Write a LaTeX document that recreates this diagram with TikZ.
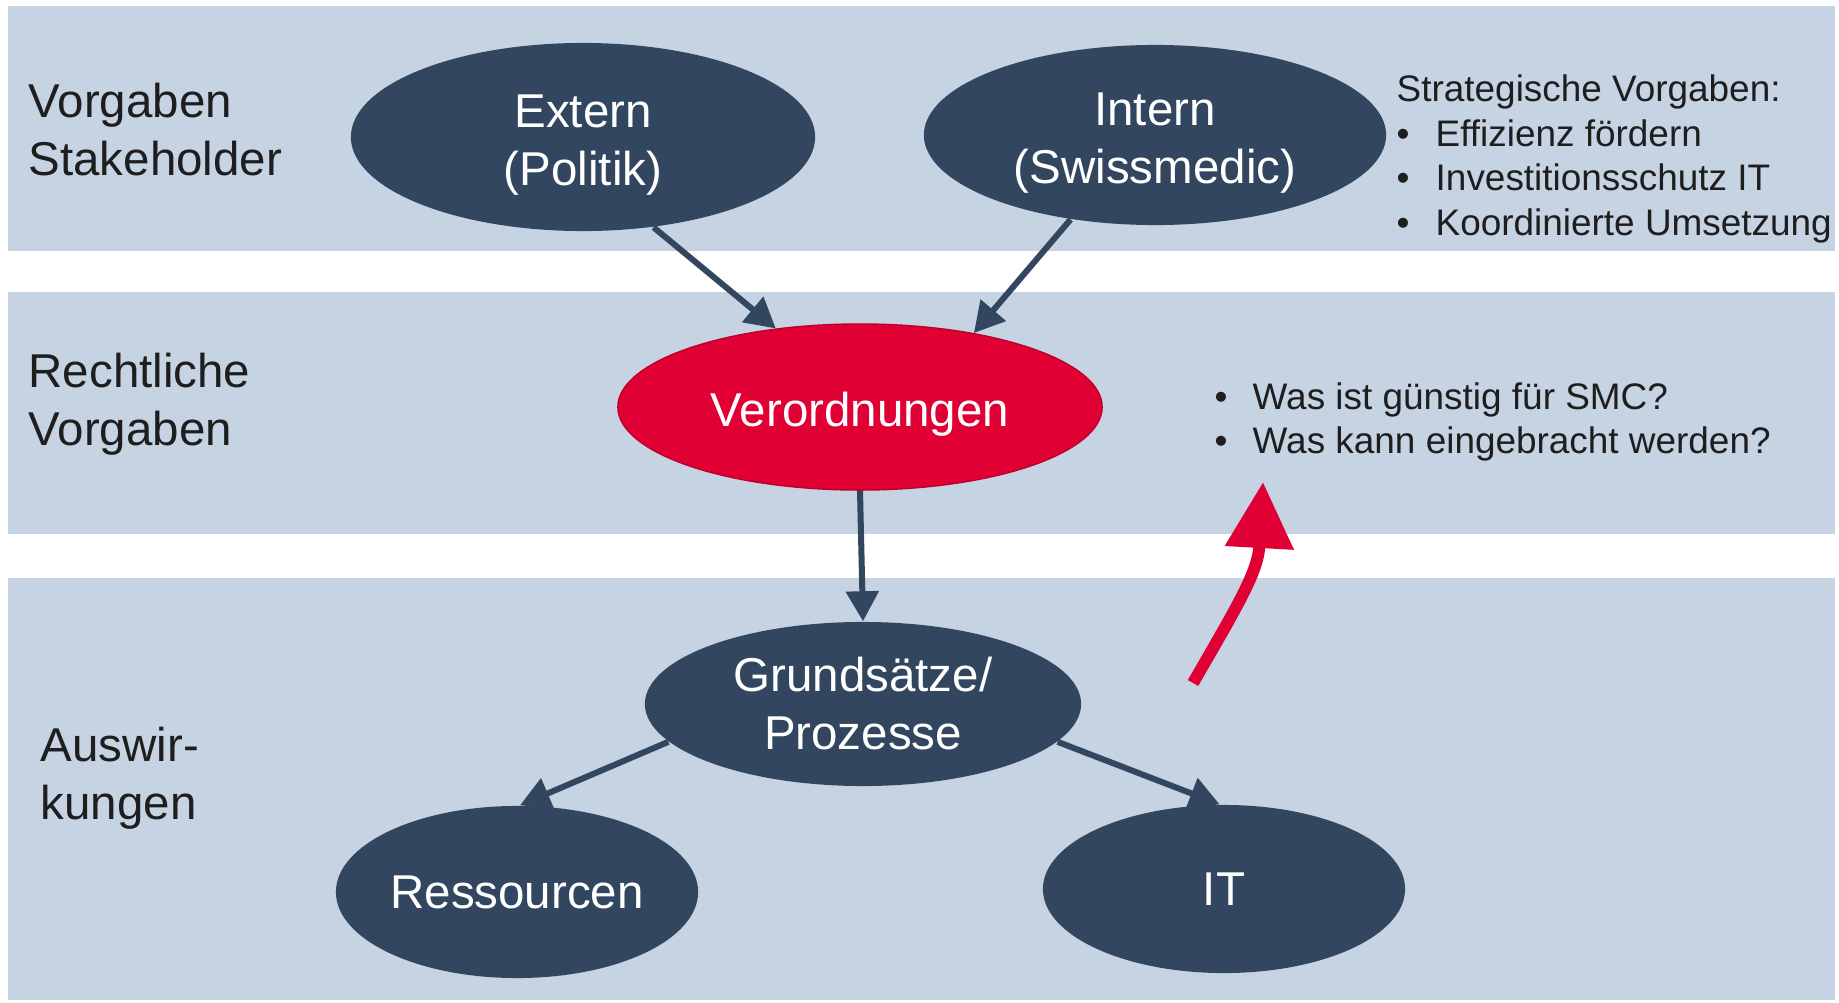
\documentclass[tikz,border=0pt]{standalone}
\usepackage{fontspec}
\setmainfont{Liberation Sans}
\usepackage{xcolor}
\usepackage{tikz}
\usetikzlibrary{shapes,arrows.meta,positioning,calc}

\definecolor{bandblue}{HTML}{C5D3E3}
\definecolor{darkblue}{HTML}{32475F}
\definecolor{smcred}{HTML}{E00034}
\definecolor{textgray}{HTML}{1E1E1E}

\newcommand{\bandfont}{\fontsize{13.5}{16.5}\selectfont}
\newcommand{\listfont}{\fontsize{10.5}{12.7}\selectfont}
\newcommand{\blt}[1]{\makebox[#1][l]{\textbullet}}
\newcommand{\topstrut}{\rule{0pt}{0.48cm}}

\begin{document}
\begin{tikzpicture}[x=0.01cm, y=-0.01cm,
    blob/.style={ellipse, fill=darkblue, text=white, inner sep=0pt, align=center, font=\bandfont},
    link/.style={draw=darkblue, line width=0.06cm, -{Triangle[length=0.3cm,width=0.32cm]}},
    redarrow/.style={draw=smcred, line width=0.12cm, -{Triangle[length=0.66cm,width=0.66cm]}},
    label/.style={anchor=west, align=left, inner sep=0pt, text=textgray}]
    \useasboundingbox (0,0) rectangle (1839,1003);

    % Baender
    \fill [bandblue] (8,6) rectangle (1835,251);
    \fill [bandblue] (8,292) rectangle (1835,534);
    \fill [bandblue] (8,578) rectangle (1835,1000);

    \node [label, font=\bandfont] (LabelTop) at (28,130) {Vorgaben\\Stakeholder};
    \node [label, font=\bandfont] (LabelMid) at (28,404) {Rechtliche\\Vorgaben};
    \node [label, font=\bandfont] (LabelBottom) at (40,778) {Auswir-\\kungen};

    \node [blob, minimum width=4.64cm, minimum height=1.88cm] (Extern) at (583,137) {\topstrut Extern\\(Politik)};
    \node [blob, minimum width=4.62cm, minimum height=1.80cm] (Intern) at (1155,135) {\topstrut Intern\\(Swissmedic)};
    \node [blob, fill=smcred, draw=smcred!85!black, thin, minimum width=4.84cm, minimum height=1.66cm] (Verordnungen) at (860,407) {\topstrut Verordnungen};
    \node [blob, minimum width=4.36cm, minimum height=1.64cm] (Grundsaetze) at (863,704) {Grundsätze/\\Prozesse};
    \node [blob, minimum width=3.62cm, minimum height=1.72cm] (Ressourcen) at (517,892) {Ressourcen};
    \node [blob, minimum width=3.62cm, minimum height=1.68cm] (IT) at (1224,889) {IT};

    \draw [link] (Extern.-52) -- (Verordnungen.137);
    \draw [link] (Intern.-135) -- (Verordnungen.33);
    \draw [link] (Verordnungen.south) -- (Grundsaetze.north);
    \draw [link] (Grundsaetze.-169) -- (Ressourcen.88);
    \draw [link] (Grundsaetze.-11) -- (IT.93);

    \node [label, font=\listfont] (Strategie) at (1396,159)
        {Strategische Vorgaben:\\
         \blt{0.39cm}Effizienz fördern\\
         \blt{0.39cm}Investitionsschutz IT\\
         \blt{0.39cm}Koordinierte Umsetzung};
    \node [label, font=\listfont] (Fragen) at (1214,422)
        {\blt{0.38cm}Was ist günstig für SMC?\\
         \blt{0.38cm}Was kann eingebracht werden?};

    \coordinate (CurveStart) at (1193,683);
    \coordinate (CurveEnd) at (1263,482);
    \draw [redarrow] (CurveStart) .. controls (1238,605) and (1258,572) .. (CurveEnd);
\end{tikzpicture}
\end{document}
